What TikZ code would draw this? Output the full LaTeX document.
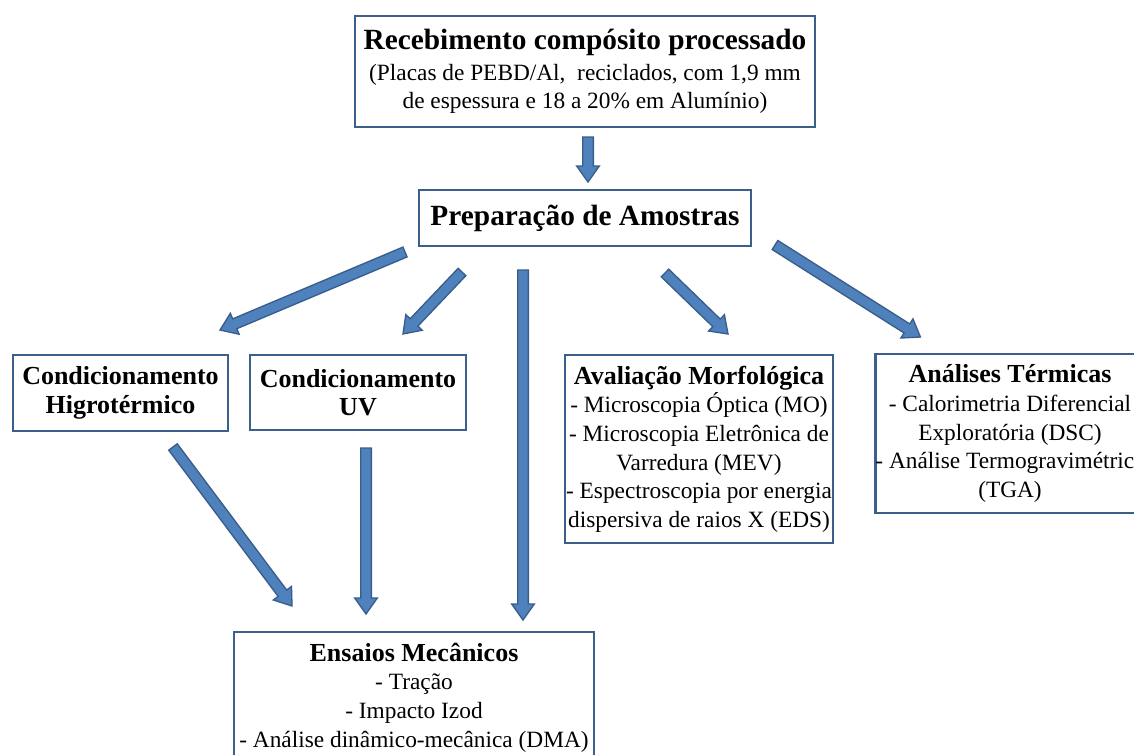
\documentclass[tikz,border=0pt]{standalone}
\usepackage{fontspec}
\setmainfont{Liberation Serif}
\usetikzlibrary{calc}
\definecolor{boxedge}{HTML}{3C5F8C}
\definecolor{arrowfill}{HTML}{4F81BD}
\definecolor{arrowedge}{HTML}{385D8A}
\newcommand{\hdr}{\fontsize{19.5}{22.5}\selectfont\bfseries}
\newcommand{\ttl}{\fontsize{22}{25}\selectfont\bfseries}
\newcommand{\barrow}[2]{%
  \coordinate (t) at (#1);
  \coordinate (h) at (#2);
  \coordinate (hb) at ($(h)!12pt!(t)$);
  \filldraw[fill=arrowfill, draw=arrowedge, line width=1pt, line join=miter]
    ($(t)!4pt!90:(h)$) -- ($(hb)!4pt!90:(h)$) -- ($(hb)!8.5pt!90:(h)$) -- (h)
    -- ($(hb)!8.5pt!-90:(h)$) -- ($(hb)!4pt!-90:(h)$) -- ($(t)!4pt!-90:(h)$) -- cycle;
}
\begin{document}
\begin{tikzpicture}[x=0.75pt, y=-0.75pt,
  bx/.style={draw=boxedge, line width=2.2pt, fill=white, inner sep=0pt, outer sep=0pt,
    align=center, font=\fontsize{17.5}{21.5}\selectfont}]
\useasboundingbox (0,0) rectangle (1134,754);
\clip (0,0) rectangle (1134,754);
\fill[white] (0,0) rectangle (1134,754);

\node[bx, minimum width=345pt, minimum height=83.25pt] (top) at (585,71.5)
  {{\ttl Recebimento compósito processado}\\[1.5pt]
   (Placas de PEBD/Al,\ \ reciclados, com 1,9 mm\\
   de espessura e 18 a 20\% em Alumínio)};
\node[bx, minimum width=249pt, minimum height=42pt] (prep) at (585,218)
  {\ttl Preparação de Amostras\rule[-4pt]{0pt}{4pt}};
\node[bx, minimum width=161.25pt, minimum height=57pt] (higro) at (120.5,393)
  {\hdr Condicionamento\\ \hdr Higrotérmico};
\node[bx, minimum width=162pt, minimum height=56.25pt] (uv) at (358,392.5)
  {\hdr Condicionamento\\ \hdr UV};
\node[bx, minimum width=201pt, minimum height=141pt] (aval) at (699,449)
  {{\hdr Avaliação Morfológica}\\
   - Microscopia Óptica (MO)\\
   - Microscopia Eletrônica de\\
   Varredura (MEV)\\
   - Espectroscopia por energia\\
   dispersiva de raios X (EDS)};
\node[bx, minimum width=199.5pt, minimum height=119.25pt] (anal) at (1010,433.5)
  {{\hdr Análises Térmicas}\\
   - Calorimetria Diferencial\\
   Exploratória (DSC)\\
   - Análise Termogravimétrica\\
   (TGA)};
\node[bx, minimum width=270pt, minimum height=98.25pt] (ens) at (414,697.5)
  {{\hdr Ensaios Mecânicos}\\
   - Tração\\
   - Impacto Izod\\
   - Análise dinâmico-mecânica (DMA)};

\barrow{$(top.south)+(3,10)$}{$(prep.north)+(3,-8)$}
\barrow{$(prep.south west)+(-14,6)$}{$(higro.north east)+(-8,-25)$}
\barrow{$(prep.south west)+(43,26)$}{$(uv.north east)+(-63,-21)$}
\barrow{$(prep.south west)+(104,24)$}{$(ens.north west)+(289,-12)$}
\barrow{$(prep.south east)+(-86,27)$}{$(aval.north west)+(163,-21)$}
\barrow{$(prep.south east)+(24,-1)$}{$(anal.north west)+(45,-17)$}
\barrow{$(higro.south)+(52.5,16)$}{$(ens.north west)+(58,-26)$}
\barrow{$(uv.south)+(8,18)$}{$(ens.north west)+(132,-18)$}
\end{tikzpicture}
\end{document}
